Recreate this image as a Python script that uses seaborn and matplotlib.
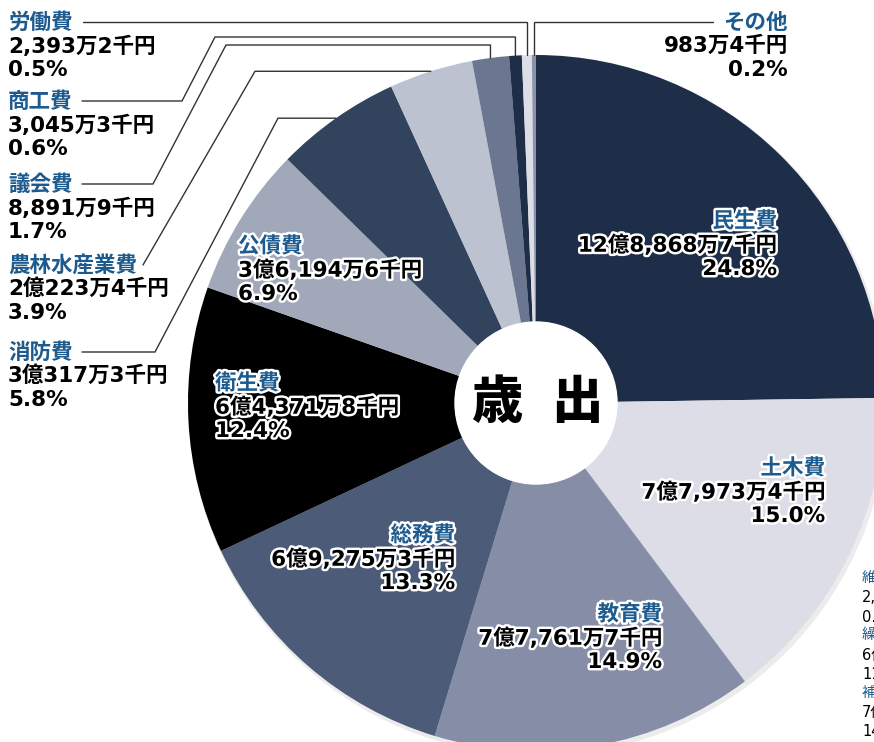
import numpy as np
import matplotlib
matplotlib.use('Agg')
import matplotlib.pyplot as plt
import matplotlib.patheffects as pe
from matplotlib.patches import Circle, Wedge
import seaborn as sns

# 歳出 (単位: 千円)
categories = ['民生費', '土木費', '教育費', '総務費', '衛生費', '公債費',
              '消防費', '農林水産業費', '議会費', '商工費', '労働費', 'その他']
amounts = [1288687, 779734, 777617, 692753, 643718, 361946,
           303173, 202234, 88919, 30453, 23932, 9834]
amount_labels = ['12億8,868万7千円', '7億7,973万4千円', '7億7,761万7千円',
                 '6億9,275万3千円', '6億4,371万8千円', '3億6,194万6千円',
                 '3億317万3千円', '2億223万4千円', '8,891万9千円',
                 '3,045万3千円', '2,393万2千円', '983万4千円']
shares = ['24.8%', '15.0%', '14.9%', '13.3%', '12.4%', '6.9%',
          '5.8%', '3.9%', '1.7%', '0.6%', '0.5%', '0.2%']
colors = ['#1f2e48', '#dcdde6', '#868da6', '#4c5b77', '#000000', '#a1a8ba',
          '#31435d', '#bdc2d0', '#6b7790', '#1f2e48', '#dcdde6', '#8a93aa']

sns.set_theme(style='white')
# wide latin digits from DejaVu, kanji/kana fall back to Noto CJK
num_font = ['DejaVu Sans', 'Noto Sans CJK JP']
plt.rcParams['font.family'] = ['Noto Sans CJK JP', 'DejaVu Sans']

W, H = 874, 742
fig = plt.figure(figsize=(W / 100, H / 100), dpi=100)
ax = fig.add_axes([0, 0, 1, 1])

cx, cy, R, r_in = 536, 403, 348, 81

# faint shadow under the pie (ring only, so the hole stays white)
ax.add_patch(Wedge((cx + 2, cy + 3), R + 1, 0, 360, width=R - r_in,
                   color='#ececec', zorder=0))

# y axis is inverted below, so counterclock in data = clockwise on screen
wedges, _ = ax.pie(amounts, colors=sns.color_palette(colors), startangle=-90,
                   counterclock=True, radius=R, center=(cx, cy),
                   wedgeprops=dict(width=R - r_in, linewidth=0))
ax.add_patch(Circle((cx, cy), r_in, color='white', zorder=2))
ax.set_xlim(0, W)
ax.set_ylim(H, 0)
ax.axis('off')

blue = '#1d5a8e'
halo = [pe.withStroke(linewidth=3.5, foreground='white')]
fs = 15.5
step = 24


def label(i, x, y, ha, fx=None):
    eff = halo if fx else None
    kw = dict(fontsize=fs, ha=ha, va='center', path_effects=eff, zorder=5,
              fontweight='bold')
    ax.text(x, y, categories[i], color=blue, **kw)
    ax.text(x, y + step, amount_labels[i], color='black', family=num_font, **kw)
    ax.text(x, y + 2 * step, shares[i], color='black', family=num_font, **kw)


# labels inside the pie
label(0, 777, 221, 'right', True)
label(1, 825, 468, 'right', True)
label(2, 662, 614, 'right', True)
label(3, 455, 535, 'right', True)
label(4, 215, 383, 'left', True)
label(5, 238, 246, 'left', True)

# labels outside with leader lines
label(10, 8, 22, 'left')
label(9, 8, 101, 'left')
label(8, 8, 184, 'left')
label(7, 8, 265, 'left')
label(6, 8, 352, 'left')
label(11, 788, 22, 'right')


def anchor(i):
    w = wedges[i]
    t = np.deg2rad((w.theta1 + w.theta2) / 2)
    return cx + R * np.cos(t), cy + R * np.sin(t)


routes = {
    10: lambda a: [a, (a[0], 22), (83, 22)],
    9: lambda a: [a, (a[0], 37), (215, 37), (182, 101), (82, 101)],
    8: lambda a: [a, (a[0], 45), (226, 45), (153, 184), (82, 184)],
    7: lambda a: [a, (255, a[1]), (143, 265)],
    6: lambda a: [a, (278, a[1]), (155, 352), (82, 352)],
    11: lambda a: [a, (a[0], 22), (713, 22)],
}
for i, f in routes.items():
    pts = np.array(f(anchor(i)))
    ax.plot(pts[:, 0], pts[:, 1], color='#333333', lw=1.0, zorder=3,
            solid_joinstyle='miter')

# center title
for ch, x in [('歳', 497), ('出', 577)]:
    ax.text(x, 403, ch, fontsize=37, fontweight='heavy', color='black',
            ha='center', va='center', zorder=6)

# neighbouring chart's labels, cut off by the right edge
edge_names = ['維持補修費', '繰出金', '補助費等']
edge_vals = [['2,', '0.'], ['6億', '11'], ['7億', '14']]
for k, (nm, vals) in enumerate(zip(edge_names, edge_vals)):
    y0 = 578 + k * 57.5
    ax.text(862, y0, nm, color=blue, fontsize=10.5, ha='left', va='center')
    for j, v in enumerate(vals):
        ax.text(862, y0 + (j + 1) * 19.5, v, color='black', fontsize=10.5,
                family=num_font, ha='left', va='center')

fig.savefig('out.png', dpi=100)
